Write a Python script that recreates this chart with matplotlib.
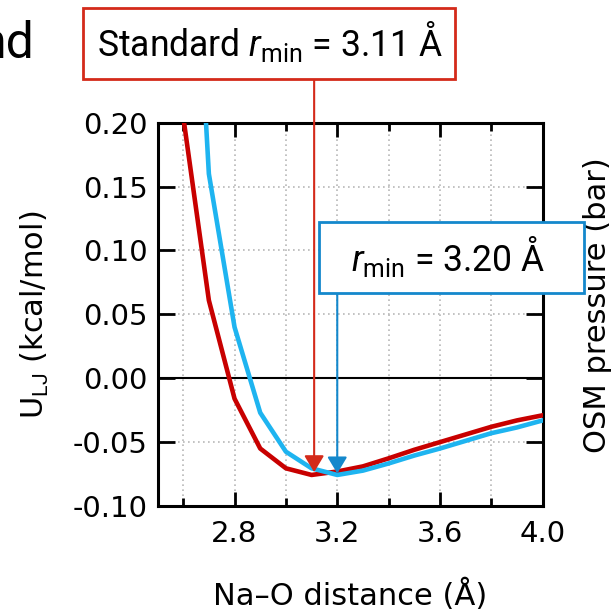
import matplotlib
matplotlib.use("Agg")
import matplotlib.pyplot as plt
from matplotlib.patches import Rectangle
from matplotlib.ticker import MultipleLocator

# Na-O Lennard-Jones potential, standard vs adjusted r_min
distancia = [2.6, 2.7, 2.8, 2.9, 3.0, 3.1, 3.2, 3.3, 3.4, 3.5, 3.6, 3.7, 3.8, 3.9, 4.0]
u_estandar = [0.205, 0.061, -0.016, -0.055, -0.0705, -0.0757, -0.073, -0.069,
              -0.0627, -0.056, -0.050, -0.044, -0.038, -0.033, -0.029]
u_ajustado = [0.52, 0.160, 0.040, -0.027, -0.0575, -0.0705, -0.0757, -0.0723,
              -0.0667, -0.0605, -0.055, -0.049, -0.043, -0.0385, -0.033]

rmin_estandar = 3.11
rmin_ajustado = 3.20
u_flecha_estandar = -0.0735
u_flecha_ajustado = -0.0745

ROJO = '#c80000'
AZUL = '#1eb4f0'
ROJO_CAJA = '#d42a1a'
AZUL_CAJA = '#1488cc'

W, H = 614, 615

plt.rcParams['axes.unicode_minus'] = False
plt.rcParams['mathtext.fontset'] = 'custom'
plt.rcParams['mathtext.rm'] = 'Roboto'
plt.rcParams['mathtext.it'] = 'Roboto:italic'


def caja(fig, x0, y0, x1, y1, color):
    '''Dibuja un rectangulo en pixeles de la figura (origen arriba a la izquierda).'''
    r = Rectangle((x0 / W, 1 - y1 / H), (x1 - x0) / W, (y1 - y0) / H,
                  transform=fig.transFigure, fill=True, facecolor='white',
                  edgecolor=color, lw=2.0, zorder=5)
    fig.add_artist(r)


def flecha(ax, x, y_tip, y_base, color):
    ax.annotate('', xy=(x, y_tip), xytext=(x, y_base), annotation_clip=False,
                arrowprops=dict(arrowstyle='-|>,head_length=0.5,head_width=0.3',
                                mutation_scale=20, color=color, lw=1.5,
                                shrinkA=0, shrinkB=0), zorder=6)


def main():
    fig = plt.figure(figsize=(W / 100, H / 100), dpi=100)
    ax = fig.add_axes([157.5 / W, 1 - 506 / H, 385.2 / W, 383.3 / H])

    ax.plot(distancia, u_estandar, color=ROJO, lw=3.3, zorder=3)
    ax.plot(distancia, u_ajustado, color=AZUL, lw=3.3, zorder=3)
    ax.axhline(0, color='black', lw=1.5, zorder=2)

    ax.set_xlim(2.5, 4.0)
    ax.set_ylim(-0.10, 0.20)
    ax.xaxis.set_major_locator(plt.FixedLocator([2.8, 3.2, 3.6, 4.0]))
    ax.xaxis.set_minor_locator(plt.FixedLocator([2.6, 3.0, 3.4, 3.8]))
    ax.yaxis.set_major_locator(MultipleLocator(0.05))
    ax.yaxis.set_major_formatter(plt.FormatStrFormatter('%.2f'))
    ax.xaxis.set_major_formatter(plt.FormatStrFormatter('%.1f'))

    ax.grid(True, which='both', axis='x', ls=(0, (1, 2)), color='#b8b8b8', lw=1.2, zorder=1)
    ax.grid(True, which='major', axis='y', ls=(0, (1, 2)), color='#b8b8b8', lw=1.2, zorder=1)

    ax.tick_params(which='both', direction='in', top=True, right=True, width=2)
    ax.tick_params(which='major', length=10, labelsize=21)
    ax.tick_params(which='minor', length=6)
    ax.tick_params(axis='x', pad=10)
    ax.tick_params(axis='y', pad=7, length=12)
    for s in ax.spines.values():
        s.set_linewidth(2.2)

    ax.set_xlabel('Na\u2013O distance (\u00c5)', fontsize=22, va='center')
    ax.xaxis.set_label_coords(0.5, (506 - 595) / 383.3)
    ax.set_ylabel(r'U$_{\rm LJ}$ (kcal/mol)', fontsize=22, va='center')
    ax.yaxis.set_label_coords((35 - 157.5) / 385.2, 0.5)
    fig.text(597 / W, 1 - 305 / H, 'OSM pressure (bar)', rotation=90,
             ha='center', va='center', fontsize=22)

    # fragmento del titulo cortado
    fig.text(34 / W, 1 - 58 / H, 'nd', ha='right', va='baseline',
             fontsize=36, family='Roboto')

    # anotaciones r_min
    caja(fig, 83, 8, 455, 79, ROJO_CAJA)
    fig.text(269.9 / W, 1 - 56 / H, 'Standard $r_{\\rm min}$ = 3.11 \u00c5',
             ha='center', va='baseline', fontsize=25.6, family='Roboto',
             zorder=7)
    y_base_rojo = 0.2 + (122.7 - 79) / 1277.8
    flecha(ax, rmin_estandar, u_flecha_estandar, y_base_rojo, ROJO_CAJA)

    caja(fig, 319, 221.7, 584.3, 292.7, AZUL_CAJA)
    fig.text(448.3 / W, 1 - 270.7 / H, '$r_{\\rm min}$ = 3.20 \u00c5',
             ha='center', va='baseline', fontsize=25.6, family='Roboto',
             zorder=7)
    y_base_azul = 0.2 - (292.7 - 122.7) / 1277.8
    flecha(ax, rmin_ajustado, u_flecha_ajustado, y_base_azul, AZUL_CAJA)

    fig.savefig('out.png', dpi=100)


if __name__ == "__main__":
    main()
